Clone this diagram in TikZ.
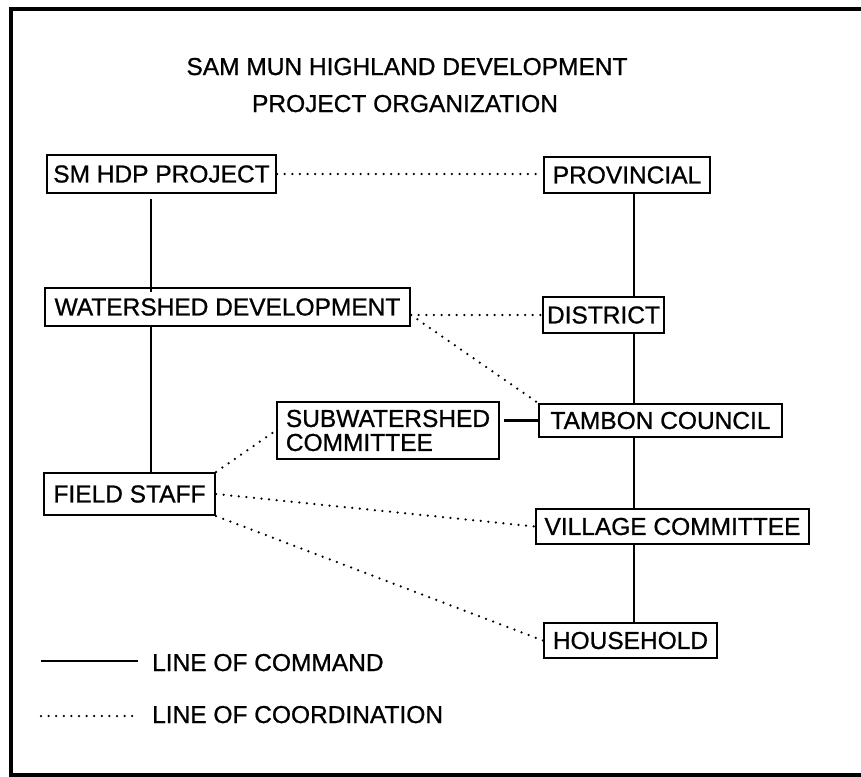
\documentclass[tikz,border=0pt]{standalone}
\usepackage{fontspec}
\setmainfont{Liberation Sans}[FakeBold=0.9]
\begin{document}
\begin{tikzpicture}[x=1pt,y=-1pt,
  box/.style={draw, line width=2.2pt, inner xsep=4pt, inner ysep=0pt,
              font=\fontsize{24.5}{24}\selectfont},
  command/.style={line width=2.2pt},
  coordline/.style={line width=2.5pt, line cap=round, dash pattern=on 0pt off 7.6pt},
  lbl/.style={font=\fontsize{24.5}{29}\selectfont, inner sep=0pt},
  frame/.style={line width=3.2pt}]
\useasboundingbox (0,0) rectangle (861,776);

% open frame (right side cut)
\draw[frame] (861,9) -- (11,9) -- (11,775) -- (861,775);

% title
\node[lbl, anchor=base] (title1) at (407,75) {SAM MUN HIGHLAND DEVELOPMENT};
\node[lbl, anchor=base] (title2) at (405,112) {PROJECT ORGANIZATION};

% spines of the two command chains
\coordinate (lspine) at (151,0);
\coordinate (rspine) at (634,0);

% project side
\node[box, minimum width=229pt, minimum height=38pt] (proj) at (161.5,174) {SM HDP PROJECT};
\node[box, minimum width=365pt, minimum height=38pt] (wd) at (227.5,307) {WATERSHED DEVELOPMENT};
\node[box, minimum width=171pt, minimum height=42pt] (fs) at (129.5,494) {FIELD STAFF};
\node[box, minimum width=222pt, minimum height=57pt, align=left] (sub) at (388,430.5) {SUBWATERSHED\\COMMITTEE};

% government side
\node[box, minimum width=166pt, minimum height=36pt] (prov) at (627,175) {PROVINCIAL};
\node[box, minimum width=121pt, minimum height=36pt] (dist) at (603.5,315) {DISTRICT};
\node[box, minimum width=243pt, minimum height=33pt] (tam) at (660.5,420.5) {TAMBON COUNCIL};
\node[box, minimum width=273pt, minimum height=35pt] (vc) at (672.5,526.5) {VILLAGE COMMITTEE};
\node[box, minimum width=173pt, minimum height=35pt] (hh) at (630.5,640.5) {HOUSEHOLD};

% lines of command
\draw[command] (proj.south -| lspine) ++(0,5) -- ([yshift=-5pt]wd.north -| lspine);
\draw[command] (wd.south -| lspine) -- (fs.north -| lspine);
\draw[command] (prov.south -| rspine) -- (dist.north -| rspine);
\draw[command] (dist.south -| rspine) -- (tam.north -| rspine);
\draw[command] (tam.south -| rspine) -- (vc.north -| rspine);
\draw[command] (vc.south -| rspine) -- (hh.north -| rspine);
\draw[command] (tam.west) -- ([xshift=4pt]sub.east |- tam.west);

% lines of coordination
\draw[coordline] (proj.east) -- (prov.west |- proj.east);
\draw[coordline] (wd.east |- dist.west) -- (dist.west);
\draw[coordline] (wd.east |- dist.west) -- (tam.north west);
\draw[coordline] (fs.north east) -- (sub.west);
\draw[coordline] (fs.east) -- (vc.west);
\draw[coordline] (fs.south east) -- (hh.west);

% legend
\coordinate (lc1) at (41,661);
\coordinate (lc2) at (138,661);
\coordinate (ld1) at (41,716);
\coordinate (ld2) at (138,716);
\draw[command] (lc1) -- (lc2);
\draw[coordline] (ld1) -- (ld2);
\node[lbl, anchor=base west] (lcmd) at (152,671) {LINE OF COMMAND};
\node[lbl, anchor=base west] (lcoord) at (152,723) {LINE OF COORDINATION};
\end{tikzpicture}
\end{document}
